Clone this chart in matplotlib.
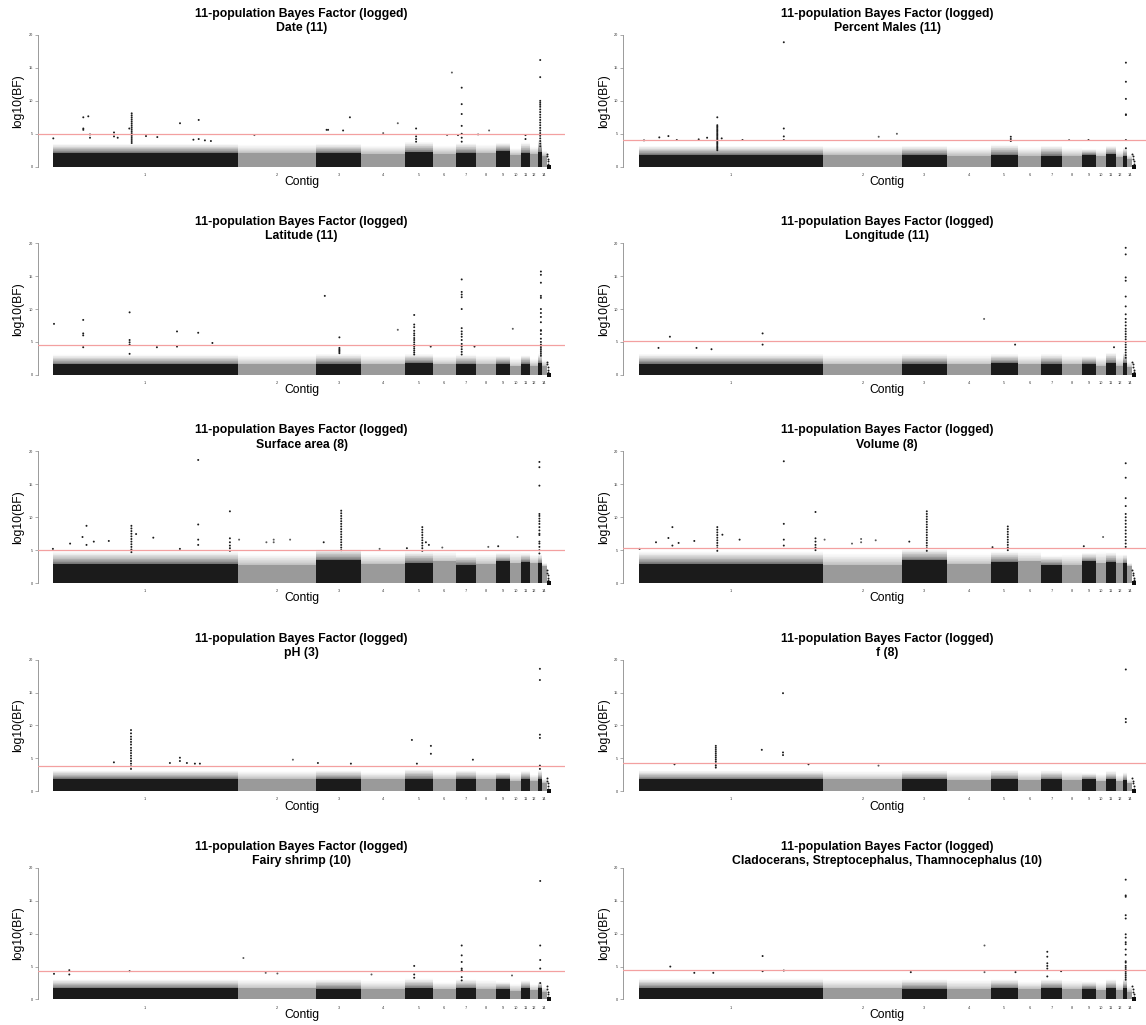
import numpy as np
import matplotlib
matplotlib.use("Agg")
import matplotlib.pyplot as plt

plt.rcParams['font.family'] = ['Liberation Sans', 'DejaVu Sans']

# ---------------------------------------------------------------- genome layout
contig_names = ['1', '2', '3', '4', '5', '6', '7', '8', '9', '10', '11', '12', '13', '14']
contig_lengths = [184.7, 78.4, 45.3, 43.7, 27.5, 23.0, 20.8, 20.1, 13.8, 10.6, 9.2, 7.6, 4.0, 5.0]
tick_labels = ['1', '2', '3', '4', '5', '6', '7', '8', '9', '10', '11', '12', '', '14']

# short unplaced scaffolds trailing after contig 14
unplaced_pos = [493.9, 494.3, 494.7, 495.1, 495.4]
unplaced_val = [2.0, 1.6, 1.2, 0.8, 0.4]
unplaced_block_pos = [495.9]
unplaced_block_val = [0.0]

title_main = '11-population Bayes Factor (logged)'
traits = ['Date (11)', 'Percent Males (11)',
          'Latitude (11)', 'Longitude (11)',
          'Surface area (8)', 'Volume (8)',
          'pH (3)', 'f (8)',
          'Fairy shrimp (10)', 'Cladocerans, Streptocephalus, Thamnocephalus (10)']

thresholds = [4.9, 4.1, 4.6, 5.2, 5.1, 5.3, 3.8, 4.25, 4.3, 4.5]

# dense body of each contig (solid top) and the upper edge of its sparse fringe
date_base = [2.1, 2.1, 2.1, 2.0, 2.2, 2.0, 2.1, 2.1, 2.4, 1.8, 2.1, 2.0, 2.3, 1.7]
date_fringe = [3.5, 3.4, 3.5, 3.3, 3.8, 3.3, 3.6, 3.4, 3.6, 2.9, 3.7, 3.1, 4.2, 2.5]
males_base = [1.8, 1.8, 1.8, 1.7, 1.8, 1.7, 1.7, 1.7, 1.8, 1.6, 1.9, 1.5, 1.6, 1.2]
males_fringe = [3.2, 3.1, 3.2, 3.0, 3.4, 3.0, 3.2, 2.9, 2.7, 2.7, 3.2, 2.5, 2.9, 1.9]
lat_base = [1.6, 1.6, 1.7, 1.6, 1.8, 1.6, 1.6, 1.6, 1.7, 1.3, 1.7, 1.4, 1.8, 1.4]
lat_fringe = [3.1, 3.0, 3.2, 3.0, 3.2, 2.9, 3.1, 3.0, 2.9, 2.6, 3.0, 2.5, 3.2, 2.3]
lon_base = [1.7, 1.6, 1.7, 1.6, 1.8, 1.6, 1.7, 1.6, 1.7, 1.4, 1.8, 1.4, 1.8, 1.2]
lon_fringe = [3.2, 3.1, 3.2, 3.1, 3.2, 3.0, 3.2, 3.0, 2.9, 2.7, 3.4, 2.6, 3.4, 2.1]
surf_base = [2.9, 2.8, 3.5, 2.9, 3.1, 3.3, 2.8, 2.9, 3.3, 3.0, 3.2, 3.0, 3.0, 2.6]
surf_fringe = [4.8, 4.5, 5.2, 4.5, 4.8, 4.8, 4.3, 4.5, 4.6, 4.8, 4.6, 4.4, 4.4, 3.1]
vol_base = [2.9, 2.8, 3.5, 2.9, 3.2, 3.3, 2.7, 2.8, 3.3, 3.0, 3.2, 3.0, 3.0, 2.6]
vol_fringe = [4.8, 4.6, 5.2, 4.5, 4.8, 4.8, 4.2, 4.4, 4.6, 4.8, 4.7, 4.4, 4.4, 3.1]
ph_base = [1.9, 1.9, 1.9, 1.8, 1.9, 1.8, 1.9, 1.8, 1.9, 1.6, 1.9, 1.6, 1.9, 1.3]
ph_fringe = [3.2, 3.1, 3.2, 3.0, 3.4, 3.0, 3.2, 3.0, 2.9, 2.7, 3.1, 2.6, 3.2, 2.0]
f_base = [1.8, 1.8, 1.8, 1.7, 1.8, 1.7, 1.8, 1.7, 1.8, 1.5, 1.8, 1.5, 1.7, 1.2]
f_fringe = [3.2, 3.1, 3.2, 3.0, 3.3, 3.0, 3.2, 3.0, 2.8, 2.7, 3.1, 2.5, 2.9, 1.9]
fairy_base = [1.7, 1.7, 1.6, 1.6, 1.7, 1.6, 1.7, 1.6, 1.6, 1.3, 1.7, 1.4, 1.7, 1.2]
fairy_fringe = [3.1, 3.1, 3.1, 2.9, 3.2, 2.7, 3.1, 3.0, 2.7, 2.5, 2.9, 2.4, 2.7, 1.9]
clado_base = [1.7, 1.7, 1.6, 1.6, 1.7, 1.6, 1.7, 1.6, 1.6, 1.4, 1.7, 1.4, 1.8, 1.2]
clado_fringe = [3.2, 3.1, 3.1, 3.0, 3.1, 2.8, 3.1, 2.9, 2.8, 2.6, 3.1, 2.5, 3.2, 2.1]

# outlying SNPs: (genome position, [log10 BF values at that locus])
date_hits = [
    (0.4, [4.3]), (30.4, [7.5, 5.8, 5.6]), (35.4, [7.65]), (37.1, [4.9, 4.4]),
    (61.1, [5.2, 4.6]), (64.8, [4.4]), (76.4, [5.8]),
    (78.8, [8.1, 7.8, 7.5, 7.2, 6.9, 6.6, 6.3, 6.0, 5.7, 5.4, 5.1, 4.8, 4.5, 4.2, 3.9, 3.6]),
    (93.1, [4.65]), (104.4, [4.5]), (127.1, [6.6]), (140.5, [4.1]), (145.8, [7.1, 4.2]),
    (152.0, [4.0]), (158.0, [3.9]), (201.5, [4.8]), (273.7, [5.6]), (275.2, [5.6]),
    (290.2, [5.5]), (297.0, [7.5]), (330.3, [5.1]), (344.9, [6.6]), (363.2, [5.8, 4.6, 4.2, 3.8]),
    (394.2, [4.8]), (399.0, [14.3]), (405.1, [4.8]),
    (408.8, [12.0, 9.5, 8.0, 6.2, 5.0, 4.4, 3.8]), (425.2, [4.9]), (436.2, [5.5]),
    (472.6, [4.8, 4.2]),
    (487.3, [16.2, 13.6, 10.0, 9.7, 9.4, 9.1, 8.7, 8.3, 7.9, 7.5, 7.1, 6.7, 6.3, 5.9,
             5.5, 5.1, 4.7, 4.3, 3.9, 3.5, 3.1]),
]
males_hits = [
    (5.5, [4.0]), (20.8, [4.45]), (29.9, [4.65]), (38.3, [4.05]), (60.2, [4.15]), (68.6, [4.4]),
    (78.8, [7.5, 6.3, 6.1, 5.9, 5.7, 5.5, 5.3, 5.1, 4.9, 4.7, 4.5, 4.3, 4.1, 3.9, 3.7, 3.5,
            3.3, 3.1, 2.9, 2.7, 2.5]),
    (83.2, [4.3]), (104.0, [4.05]), (145.3, [18.9, 5.8, 4.6, 4.05]), (240.2, [4.55]),
    (258.4, [5.0]), (372.3, [4.55, 4.2, 3.9]), (430.6, [4.05]), (450.0, [4.05]),
    (487.4, [15.8, 12.9, 10.3, 7.95, 7.85, 4.05, 2.8]),
]
lat_hits = [
    (1.1, [7.75]), (30.3, [8.35, 6.3, 6.0, 4.2]), (76.7, [9.5, 5.3, 4.95, 4.6, 3.2]),
    (104.0, [4.2]), (124.1, [6.6, 4.3]), (145.3, [6.4]), (159.5, [4.85]), (271.9, [12.0]),
    (286.5, [5.7, 4.1, 3.9, 3.7, 3.5, 3.3]), (344.9, [6.85]),
    (361.3, [9.1, 7.65, 7.25, 6.7, 6.3, 6.0, 5.6, 5.3, 4.95, 4.6, 4.3, 4.0, 3.7, 3.4, 3.1]),
    (377.8, [4.3]),
    (408.8, [14.5, 12.6, 12.2, 11.8, 10.0, 7.1, 6.6, 6.2, 5.8, 5.3, 4.7, 4.3, 3.9, 3.5, 3.1]),
    (421.6, [4.3]), (459.9, [7.0]),
    (488.0, [15.7, 15.2, 14.0, 12.0, 11.7, 10.0, 9.4, 8.8, 8.0, 6.8, 6.7, 6.2, 5.5, 5.0,
             4.6, 4.4, 4.1, 3.8, 3.5, 3.2, 2.9]),
]
lon_hits = [
    (20.0, [4.1]), (31.4, [5.8]), (58.0, [4.1]), (73.0, [3.9]), (124.1, [6.3, 4.6]),
    (345.6, [8.5]), (376.6, [4.6]), (475.5, [4.2]),
    (487.2, [19.3, 18.3, 14.8, 14.3, 11.9, 10.4, 9.2, 8.5, 8.0, 7.5, 7.0, 6.6, 6.2, 5.8,
             5.4, 5.0, 4.6, 4.2, 3.8, 3.4, 3.0, 2.6]),
]
surf_hits = [
    (0.0, [5.2]), (17.2, [6.0]), (29.6, [7.0]), (33.6, [8.7, 5.8]), (40.9, [6.3]), (55.9, [6.4]),
    (78.5, [8.7, 8.3, 7.9, 7.5, 7.1, 6.7, 6.3, 5.9, 5.5, 5.1, 4.7]),
    (83.2, [7.45]), (100.4, [6.9]), (127.0, [5.2]), (145.3, [18.7, 8.9, 6.6, 5.8]),
    (177.0, [10.9, 6.8, 6.2, 5.7, 5.3, 4.9]), (186.2, [6.6]), (213.5, [6.2]),
    (220.8, [6.6, 6.2]), (237.2, [6.6]), (270.8, [6.2]),
    (288.3, [11.0, 10.6, 10.2, 9.8, 9.4, 9.0, 8.6, 8.2, 7.8, 7.4, 7.0, 6.6, 6.2, 5.8, 5.4, 5.0]),
    (326.7, [5.2]), (354.0, [5.3]),
    (369.4, [8.5, 8.1, 7.7, 7.3, 6.9, 6.5, 6.1, 5.7, 5.3, 4.9]),
    (373.0, [6.2]), (376.0, [5.8]), (389.4, [5.4]), (435.4, [5.5]), (445.3, [5.6]), (464.6, [7.0]),
    (486.5, [18.4, 17.6, 14.8, 10.5, 10.2, 9.8, 9.4, 9.0, 8.5, 8.0, 7.5, 7.3, 6.3, 6.0, 5.5,
             5.0, 4.5]),
]
vol_hits = [
    (1.1, [5.2]), (17.5, [6.2]), (29.9, [6.85]), (33.9, [8.5, 5.7]), (40.1, [6.1]), (55.8, [6.4]),
    (78.8, [8.5, 8.1, 7.7, 7.3, 6.9, 6.5, 6.1, 5.7, 5.3, 4.9]),
    (83.9, [7.35]), (101.1, [6.6]), (145.3, [18.5, 9.0, 6.6, 5.7]),
    (177.0, [10.8, 6.8, 6.3, 5.8, 5.4, 5.0]), (186.1, [6.6]), (213.5, [6.0]),
    (222.6, [6.7, 6.2]), (237.2, [6.5]), (270.8, [6.3]),
    (288.3, [10.9, 10.5, 10.1, 9.7, 9.3, 8.9, 8.5, 8.1, 7.7, 7.3, 6.9, 6.5, 6.1, 5.7, 5.3, 4.9]),
    (354.0, [5.45]),
    (369.3, [8.6, 8.2, 7.8, 7.4, 7.0, 6.6, 6.2, 5.8, 5.4, 5.0]),
    (445.3, [5.6]), (464.6, [7.0]),
    (487.2, [18.2, 16.0, 12.9, 11.7, 10.5, 10.0, 9.5, 9.0, 8.5, 8.0, 7.5, 7.0, 6.5, 6.0, 5.5]),
]
ph_hits = [
    (61.0, [4.4]),
    (78.1, [9.3, 8.8, 8.3, 7.9, 7.5, 7.1, 6.6, 6.2, 5.8, 5.4, 5.0, 4.6, 4.2, 3.8, 3.4]),
    (117.0, [4.3]), (127.0, [5.1, 4.6]), (134.0, [4.3]), (142.0, [4.2]), (147.0, [4.2]),
    (240.0, [4.8]), (265.0, [4.3]), (298.0, [4.2]), (359.0, [7.8]), (364.0, [4.2]),
    (378.0, [6.9, 5.7]), (420.0, [4.8]),
    (487.0, [18.6, 16.9, 8.6, 8.1, 3.9, 3.4]),
]
f_hits = [
    (36.0, [4.1]),
    (77.3, [6.9, 6.6, 6.3, 6.0, 5.7, 5.4, 5.1, 4.8, 4.5, 4.2, 3.9, 3.6]),
    (123.3, [6.3]), (144.5, [14.9, 5.9, 5.5]), (170.0, [4.1]), (240.0, [3.9]),
    (487.3, [18.5, 11.0, 10.5]),
]
fairy_hits = [
    (1.1, [3.9]), (16.4, [4.45, 3.8]), (76.7, [4.3]), (190.5, [6.3]), (212.8, [4.05]),
    (224.5, [3.95]), (318.6, [3.8]), (361.3, [5.1, 3.8, 3.3]),
    (408.8, [8.2, 6.7, 5.7, 4.7, 4.45, 4.3, 3.4, 2.9]), (459.1, [3.65]),
    (487.3, [18.0, 8.2, 6.0, 4.7, 2.5]),
]
clado_hits = [
    (31.8, [5.0]), (55.8, [4.05]), (74.8, [4.05]), (124.1, [6.6, 4.3]), (145.3, [4.4]),
    (272.3, [4.15]), (346.0, [8.2, 4.15]), (377.0, [4.15]),
    (408.8, [7.25, 6.5, 5.5, 5.1, 4.7, 3.5]), (422.6, [4.3]),
    (487.2, [18.2, 15.8, 15.6, 12.8, 12.3, 9.9, 9.4, 8.7, 8.4, 7.6, 6.8, 5.8, 5.6, 5.1, 4.8,
             4.5, 4.2, 3.9, 3.6, 3.3, 3.0]),
]

panel_base = [date_base, males_base, lat_base, lon_base, surf_base,
              vol_base, ph_base, f_base, fairy_base, clado_base]
panel_fringe = [date_fringe, males_fringe, lat_fringe, lon_fringe, surf_fringe,
                vol_fringe, ph_fringe, f_fringe, fairy_fringe, clado_fringe]
panel_hits = [date_hits, males_hits, lat_hits, lon_hits, surf_hits,
              vol_hits, ph_hits, f_hits, fairy_hits, clado_hits]

# ---------------------------------------------------------------- styling
DARK = '#1b1b1b'
LIGHT = '#9a9a9a'
LINE_RED = '#f3a0a0'
AXIS_GREY = '#8a8a8a'
FRINGE_STEPS = 16

W, H = 1146, 1025
fig = plt.figure(figsize=(W / 100, H / 100), dpi=100)

lengths = np.array(contig_lengths)
starts = np.concatenate([[0.0], np.cumsum(lengths)[:-1]])
ends = starts + lengths
centers = starts + lengths / 2
colors = [DARK if i % 2 == 0 else LIGHT for i in range(len(lengths))]

col_left = [37.7, 623.3]
ax_w = 527.6
row_pitch = 208.2
px_per_unit = 6.585
y_lo, y_hi = -0.8, 20.8
zero_px = 166.7
ax_top0 = zero_px - y_hi * px_per_unit
ax_h = (y_hi - y_lo) * px_per_unit
xlim = (-15.2, 512.4)


def contig_color(pos):
    idx = int(np.searchsorted(ends, pos, side='right'))
    idx = min(idx, len(colors) - 1)
    return colors[idx]


def fig_xy(x_px, y_px):
    return x_px / W, 1 - y_px / H


for k in range(10):
    r, c = divmod(k, 2)
    left = col_left[c]
    top = ax_top0 + r * row_pitch
    ax = fig.add_axes([left / W, 1 - (top + ax_h) / H, ax_w / W, ax_h / H])
    ax.set_xlim(*xlim)
    ax.set_ylim(y_lo, y_hi)
    ax.patch.set_visible(False)

    base = np.array(panel_base[k])
    fringe = np.array(panel_fringe[k])
    step = (fringe - base) / FRINGE_STEPS
    # sparse fringe above the dense body, thinning out towards its upper edge
    for j in range(FRINGE_STEPS):
        alpha = 0.62 * (1 - (j + 0.5) / FRINGE_STEPS) ** 1.3
        ax.bar(starts, step, bottom=base + j * step, width=lengths, align='edge',
               color=colors, alpha=alpha, linewidth=0, zorder=1)
    # dense body
    ax.bar(starts, base, width=lengths, align='edge',
           color=colors, linewidth=0, zorder=2)

    # outlying loci
    xs, ys, cs = [], [], []
    for pos, vals in panel_hits[k]:
        for v in vals:
            xs.append(pos)
            ys.append(v)
            cs.append(DARK if contig_color(pos) == DARK else '#5a5a5a')
    ax.scatter(xs, ys, s=2.0, c=cs, linewidths=0, zorder=3)

    # unplaced scaffolds
    ax.scatter(unplaced_pos, unplaced_val, s=2.0, c=DARK, linewidths=0, zorder=3)
    ax.scatter(unplaced_block_pos, unplaced_block_val, s=6, marker='s', c='#0d0d0d',
               linewidths=0, zorder=3)

    ax.axhline(thresholds[k], color=LINE_RED, lw=0.9, zorder=4)

    for side in ['top', 'right', 'bottom']:
        ax.spines[side].set_visible(False)
    ax.spines['left'].set_bounds(0, 20)
    ax.spines['left'].set_color(AXIS_GREY)
    ax.spines['left'].set_linewidth(0.6)
    ax.set_yticks([0, 5, 10, 15, 20])
    ax.set_yticklabels(['0', '5', '10', '15', '20'])
    ax.tick_params(axis='y', length=2.0, width=0.5, color=AXIS_GREY,
                   labelsize=2.8, pad=1.5, labelcolor='#333333')
    ax.set_xticks(centers)
    ax.set_xticklabels(tick_labels)
    ax.tick_params(axis='x', length=0, labelsize=2.8, pad=0.6, labelcolor='#333333')

    cx = left + ax_w / 2
    fig.text(*fig_xy(cx, 14.0 + r * row_pitch), title_main, ha='center', va='center',
             fontsize=8.8, fontweight='bold')
    fig.text(*fig_xy(cx, 28.3 + r * row_pitch), traits[k], ha='center', va='center',
             fontsize=8.8, fontweight='bold')
    fig.text(*fig_xy(left - 19.5, 100.8 + r * row_pitch), 'log10(BF)', rotation=90,
             ha='center', va='center', fontsize=8.7)
    fig.text(*fig_xy(cx, 182.0 + r * row_pitch), 'Contig', ha='center', va='center',
             fontsize=8.7)

fig.savefig('out.png', dpi=100)
